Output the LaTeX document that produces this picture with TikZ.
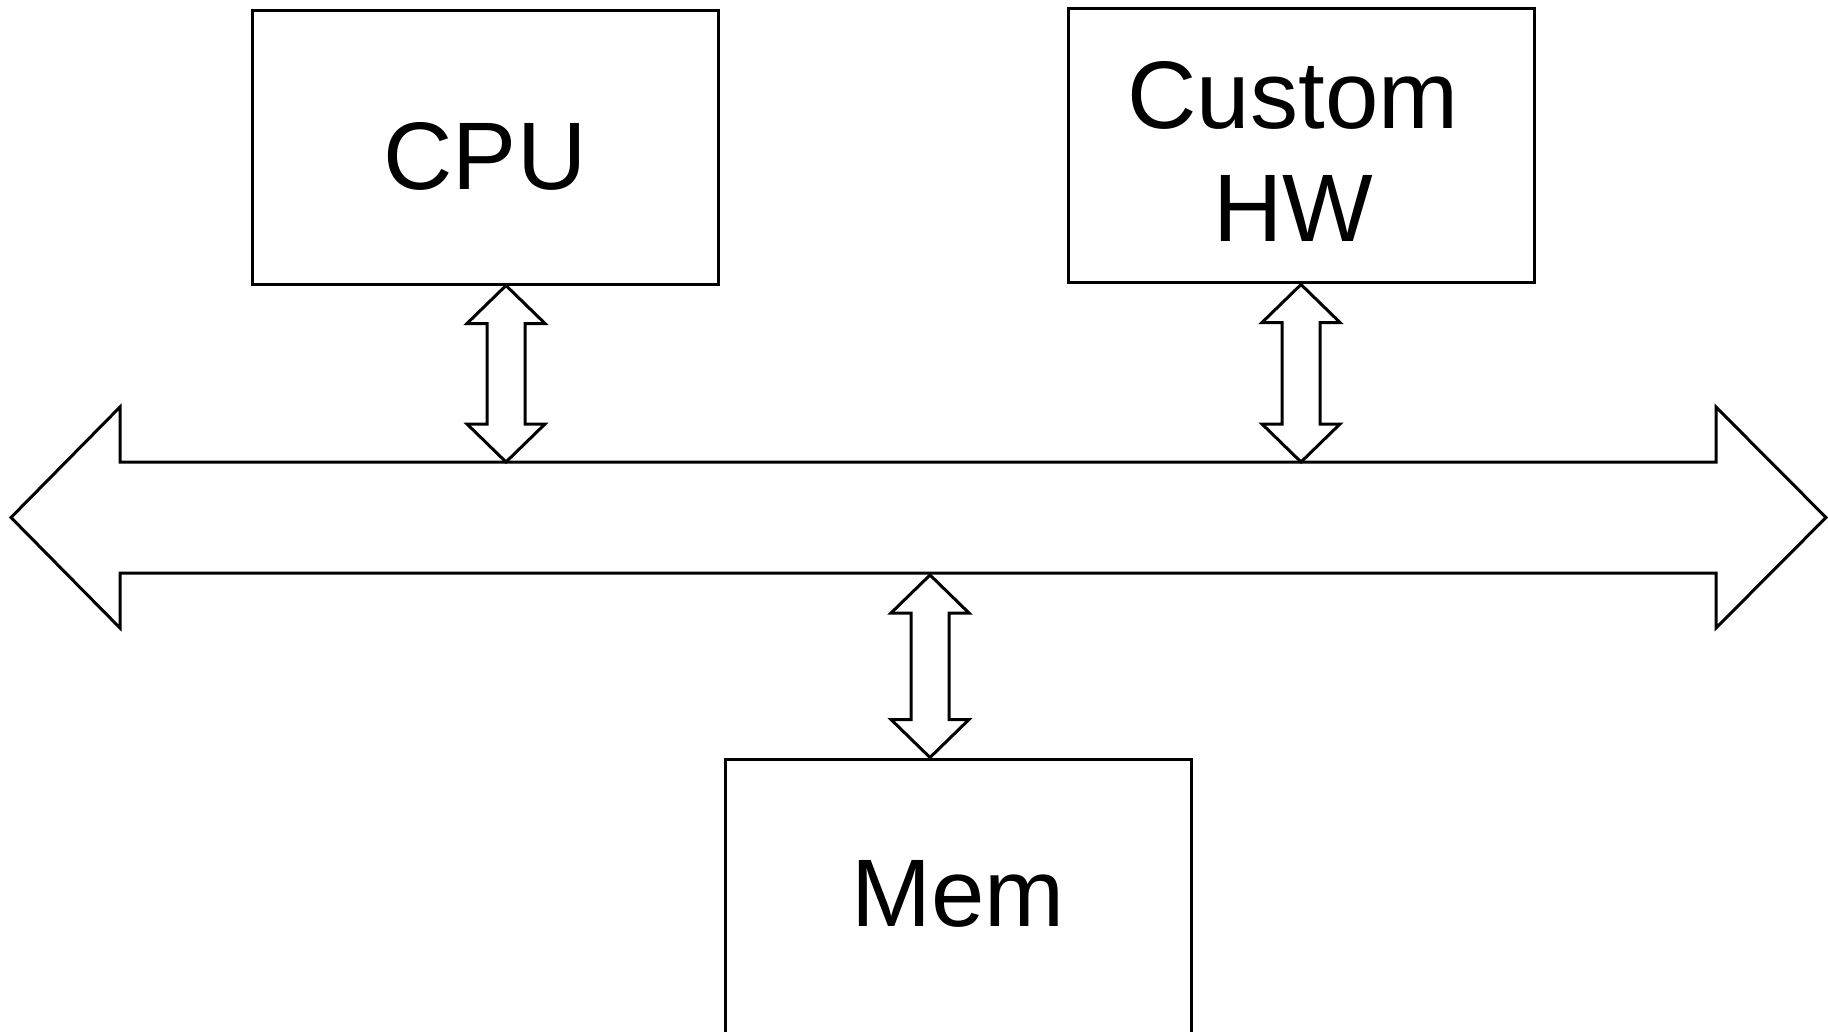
\documentclass[tikz,border=0pt]{standalone}
\usepackage{fontspec}
\setmainfont{Liberation Sans}
\usetikzlibrary{calc}
\begin{document}
\begin{tikzpicture}[x=1pt,y=-1pt,
  unitbox/.style={draw,line width=3pt,line join=miter,rectangle,inner sep=0pt,
    minimum width=466pt,minimum height=274pt,align=center,
    font=\fontsize{96}{113}\selectfont},
  arrowline/.style={draw,line width=3pt,line join=miter,fill=white}]
\useasboundingbox (0,0) rectangle (1828,1032);
\clip (0,0) rectangle (1828,1032);

% functional units
\node[unitbox,text height=84pt,text depth=0pt] (cpu) at (485,147.5) {CPU};
\node[unitbox] (hw) at (1301,145.75)
  {\rule{0pt}{78pt}Custom\hspace*{16pt}\\HW\hspace*{16pt}};
\node[unitbox,text depth=5pt] (mem) at (958,896) {Mem};

% system bus: horizontal double-headed block arrow
\coordinate (busL) at (11,517.5);
\coordinate (busR) at (1826,517.5);
\draw[arrowline] (busL) -- ($(busL)+(109,-110.5)$) -- ($(busL)+(109,-55.5)$)
  -- ($(busR)+(-110,-55.5)$) -- ($(busR)+(-110,-110.5)$) -- (busR)
  -- ($(busR)+(-110,110.5)$) -- ($(busR)+(-110,55.5)$)
  -- ($(busL)+(109,55.5)$) -- ($(busL)+(109,110.5)$) -- cycle;

% vertical double-headed block arrows linking the units to the bus
\newcommand\linkarrow[2]{%
  \draw[arrowline] (#1) -- ($(#1)+(39,38)$) -- ($(#1)+(19,38)$)
    -- ($(#2)+(19,-38)$) -- ($(#2)+(39,-38)$) -- (#2)
    -- ($(#2)+(-39,-38)$) -- ($(#2)+(-19,-38)$)
    -- ($(#1)+(-19,38)$) -- ($(#1)+(-39,38)$) -- cycle;}

\coordinate (cpuA) at (506,285.5);
\coordinate (cpuB) at (506,462);
\coordinate (hwA) at (1301,284.5);
\coordinate (hwB) at (1301,462);
\coordinate (memA) at (930,575);
\coordinate (memB) at (930,757.5);
\linkarrow{cpuA}{cpuB}
\linkarrow{hwA}{hwB}
\linkarrow{memA}{memB}
\end{tikzpicture}
\end{document}
